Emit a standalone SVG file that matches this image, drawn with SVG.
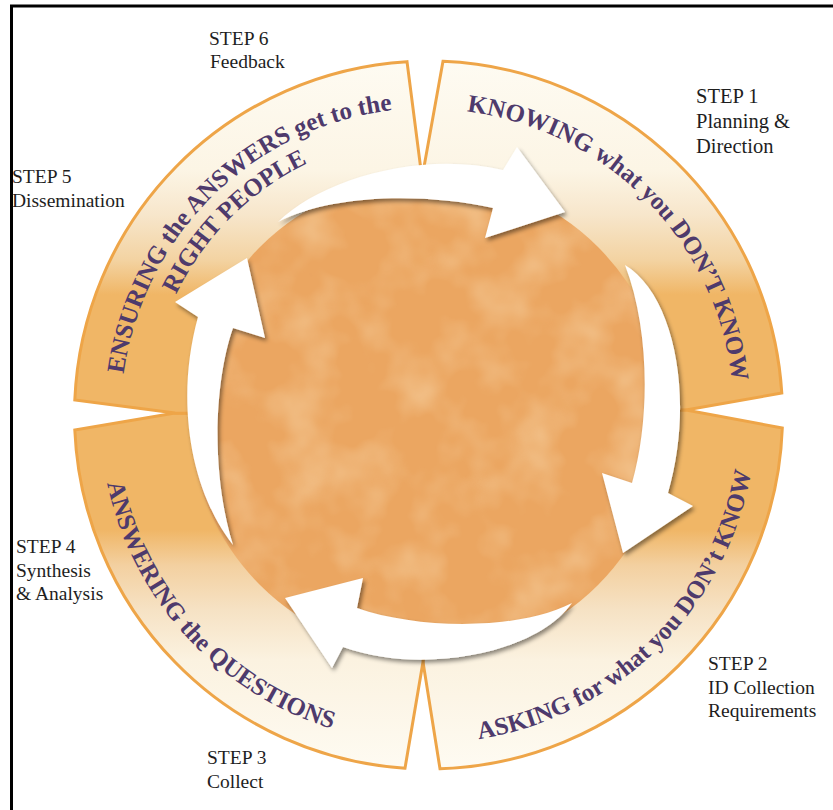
<svg xmlns="http://www.w3.org/2000/svg" width="833" height="810" viewBox="0 0 833 810">
<style>
.lbl{font-family:"Liberation Serif","Times New Roman",serif;font-size:19.5px;fill:#1e1e1e}
.lbl1{font-size:20.5px}
.rt{font-family:"Liberation Serif","Times New Roman",serif;font-size:25px;font-weight:bold;fill:#4e3a6c}
.seg{fill:url(#ringGrad);stroke:#eea548;stroke-width:3;stroke-linejoin:miter}
.arrow{fill:#ffffff;filter:url(#shadow)}
</style>
<defs>
<linearGradient id="ringGrad" gradientUnits="userSpaceOnUse" x1="0" y1="61" x2="0" y2="769">
<stop offset="0" stop-color="#fefbf2"/>
<stop offset="0.154" stop-color="#fcf5e5"/>
<stop offset="0.2175" stop-color="#f7e6cb"/>
<stop offset="0.281" stop-color="#f3d3a2"/>
<stop offset="0.33" stop-color="#f0b666"/>
<stop offset="0.662" stop-color="#f0b666"/>
<stop offset="0.712" stop-color="#f3d0a0"/>
<stop offset="0.775" stop-color="#f6e2c4"/>
<stop offset="0.846" stop-color="#fbf2e0"/>
<stop offset="1" stop-color="#fefbf2"/>
</linearGradient>
<filter id="tex" x="0" y="0" width="100%" height="100%">
<feTurbulence type="fractalNoise" baseFrequency="0.018" numOctaves="3" seed="7" result="n"/>
<feColorMatrix in="n" type="matrix" values="0 0 0 0 0.95  0 0 0 0 0.72  0 0 0 0 0.45  1.0 0 0 0 -0.42" result="c"/>
<feComposite in="c" in2="SourceGraphic" operator="in"/>
</filter>
<filter id="shadow" x="-20%" y="-20%" width="140%" height="140%">
<feDropShadow dx="2" dy="3" stdDeviation="2" flood-color="#000" flood-opacity="0.45"/>
</filter>
<path id="pTR" d="M428,109 A306,306 0 0 1 734,420.3"/>
<path id="pBR" d="M428,743 A328,328 0 0 0 755.95,420.7"/>
<path id="pBL" d="M100.2,403.6 A328,328 0 0 0 410.8,742.6"/>
<path id="pTL" d="M121.05,409.64 A307,307 0 0 1 428,108"/>
<path id="pTL2" d="M149,410.1 A279,279 0 0 1 423.1,136"/>
</defs>

<rect x="0" y="0" width="833" height="810" fill="#ffffff"/>
<path d="M11.5,810 V6 H833" fill="none" stroke="#000" stroke-width="3"/>

<g id="step1">
<path class="seg" d="M443,61.3 A354,354 0 0 1 781.8,393 L686,410 L428.5,415 L422,178 Z"/>
</g>
<g id="step2">
<path class="seg" d="M782.3,428 A354,354 0 0 1 440,768.8 L423,662 L428.5,415 L686,410 Z"/>
</g>
<g id="step3">
<path class="seg" d="M405,768.2 A354,354 0 0 1 74.8,430 L175,413 L428.5,415 L423,662 Z"/>
</g>
<g id="step4">
<path class="seg" d="M74.8,400 A354,354 0 0 1 407,61.65 L422,178 L428.5,415 L175,413 Z"/>
</g>

<g id="core">
<circle cx="429" cy="416" r="239" fill="#eba661"/>
<circle cx="429" cy="416" r="239" fill="#f0b472" filter="url(#tex)"/>
</g>

<g id="connectors">
<path class="arrow" d="M278,222 C320,180 420,150 503,170 L517,147 L565,212 L485,238 L493,208 C420,192 330,195 278,222 Z"/>
<path class="arrow" d="M625,265 C675,295 695,400 668,493 L693,506 L623,553 L602,473 L632,483 C650,420 650,330 625,265 Z"/>
<path class="arrow" d="M572,603 C535,655 420,675 343,647 L332,668 L285,598 L363,578 L357,608 C420,630 520,630 572,603 Z"/>
<path class="arrow" d="M233,545 C190,490 175,400 198,317 L175,302 L247,258 L265,338 L233,328 C215,380 210,470 233,545 Z"/>
</g>

<g id="ring-text-1"><text class="rt"><textPath href="#pTR" startOffset="50%" text-anchor="middle">KNOWING what you DON’T KNOW</textPath></text></g>
<g id="ring-text-2"><text class="rt"><textPath href="#pBR" startOffset="50%" text-anchor="middle">ASKING for what you DON’t KNOW</textPath></text></g>
<g id="ring-text-3"><text class="rt"><textPath href="#pBL" startOffset="50%" text-anchor="middle">ANSWERING the QUESTIONS</textPath></text></g>
<g id="ring-text-4">
<text class="rt"><textPath href="#pTL" startOffset="50%" text-anchor="middle">ENSURING the ANSWERS get to the</textPath></text>
<text class="rt"><textPath href="#pTL2" startOffset="50%" text-anchor="middle">RIGHT PEOPLE</textPath></text>
</g>

<g id="label-step1">
<text class="lbl lbl1" x="696" y="103">STEP 1</text>
<text class="lbl lbl1" x="696" y="128">Planning &amp;</text>
<text class="lbl lbl1" x="696" y="153">Direction</text>
</g>
<g id="label-step2">
<text class="lbl" x="708" y="670">STEP 2</text>
<text class="lbl" x="708" y="694">ID Collection</text>
<text class="lbl" x="708" y="717">Requirements</text>
</g>
<g id="label-step3">
<text class="lbl" x="207" y="764">STEP 3</text>
<text class="lbl" x="207" y="788">Collect</text>
</g>
<g id="label-step4">
<text class="lbl" x="16" y="553">STEP 4</text>
<text class="lbl" x="16" y="577">Synthesis</text>
<text class="lbl" x="16" y="600">&amp; Analysis</text>
</g>
<g id="label-step5">
<text class="lbl" x="12" y="183">STEP 5</text>
<text class="lbl" x="12" y="207">Dissemination</text>
</g>
<g id="label-step6">
<text class="lbl" x="209" y="45">STEP 6</text>
<text class="lbl" x="210" y="68">Feedback</text>
</g>
</svg>
